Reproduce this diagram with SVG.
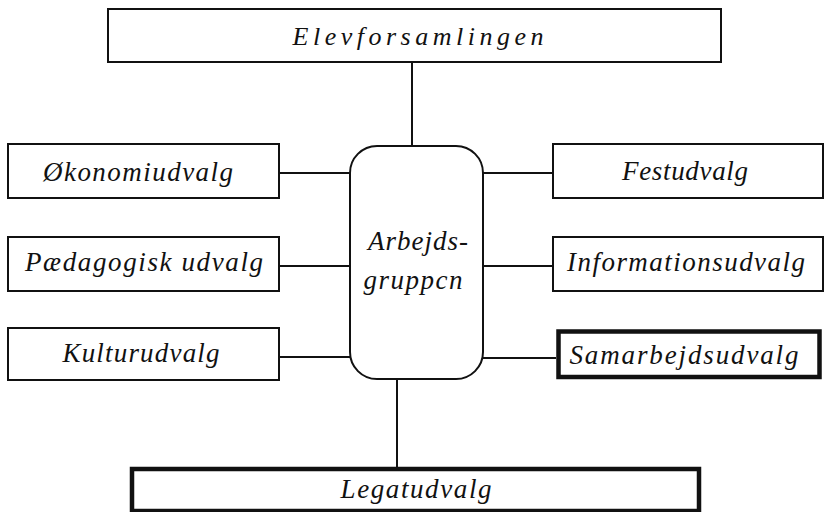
<svg xmlns="http://www.w3.org/2000/svg" width="825" height="512" viewBox="0 0 825 512">
<style>
.box{fill:#fff;stroke:#111;stroke-width:2}
.thick{fill:#fff;stroke:#111;stroke-width:4.5}
.lbl{font-family:"Liberation Serif","DejaVu Serif",serif;font-style:italic;font-size:27px;fill:#111;text-anchor:middle}
.top{font-size:26px}
.con{stroke:#111;stroke-width:2;fill:none}
</style>
<rect width="825" height="512" fill="#fff"/>
<g id="connectors">
<line class="con" x1="412" y1="63" x2="412" y2="146"/>
<line class="con" x1="397" y1="379" x2="397" y2="467"/>
<line class="con" x1="279" y1="173" x2="350" y2="173"/>
<line class="con" x1="279" y1="266" x2="350" y2="266"/>
<line class="con" x1="279" y1="357" x2="350" y2="357"/>
<line class="con" x1="483" y1="173" x2="553" y2="173"/>
<line class="con" x1="483" y1="266" x2="553" y2="266"/>
<line class="con" x1="483" y1="358" x2="556" y2="358"/>
</g>
<g id="elevforsamlingen">
<rect class="box" x="108" y="9" width="613" height="53"/>
<text class="lbl top" x="418" y="45" textLength="251" lengthAdjust="spacing">Elevforsamlingen</text>
</g>
<g id="arbejdsgruppen">
<rect class="box" x="350" y="146" width="133" height="233" rx="27"/>
<text class="lbl" x="418" y="250" textLength="100" lengthAdjust="spacing">Arbejds-</text>
<text class="lbl" x="413" y="289" textLength="99" lengthAdjust="spacing">gruppcn</text>
</g>
<g id="okonomiudvalg">
<rect class="box" x="8" y="144" width="271" height="54"/>
<text class="lbl" x="138" y="181" textLength="190" lengthAdjust="spacing">Økonomiudvalg</text>
</g>
<g id="paedagogisk">
<rect class="box" x="8" y="237" width="271" height="54"/>
<text class="lbl" x="144" y="271" textLength="238" lengthAdjust="spacing">Pædagogisk udvalg</text>
</g>
<g id="kulturudvalg">
<rect class="box" x="8" y="328" width="271" height="52"/>
<text class="lbl" x="141" y="362" textLength="157" lengthAdjust="spacing">Kulturudvalg</text>
</g>
<g id="festudvalg">
<rect class="box" x="553" y="144" width="270" height="54"/>
<text class="lbl" x="685" y="180" textLength="126" lengthAdjust="spacing">Festudvalg</text>
</g>
<g id="informationsudvalg">
<rect class="box" x="553" y="237" width="270" height="54"/>
<text class="lbl" x="686" y="271" textLength="238" lengthAdjust="spacing">Informationsudvalg</text>
</g>
<g id="samarbejdsudvalg">
<rect class="thick" x="558.5" y="331.5" width="261" height="45.5"/>
<text class="lbl" x="684" y="364" textLength="229" lengthAdjust="spacing">Samarbejdsudvalg</text>
</g>
<g id="legatudvalg">
<rect class="thick" x="132" y="469" width="567" height="42"/>
<text class="lbl" x="416" y="498" textLength="151" lengthAdjust="spacing">Legatudvalg</text>
</g>
</svg>
